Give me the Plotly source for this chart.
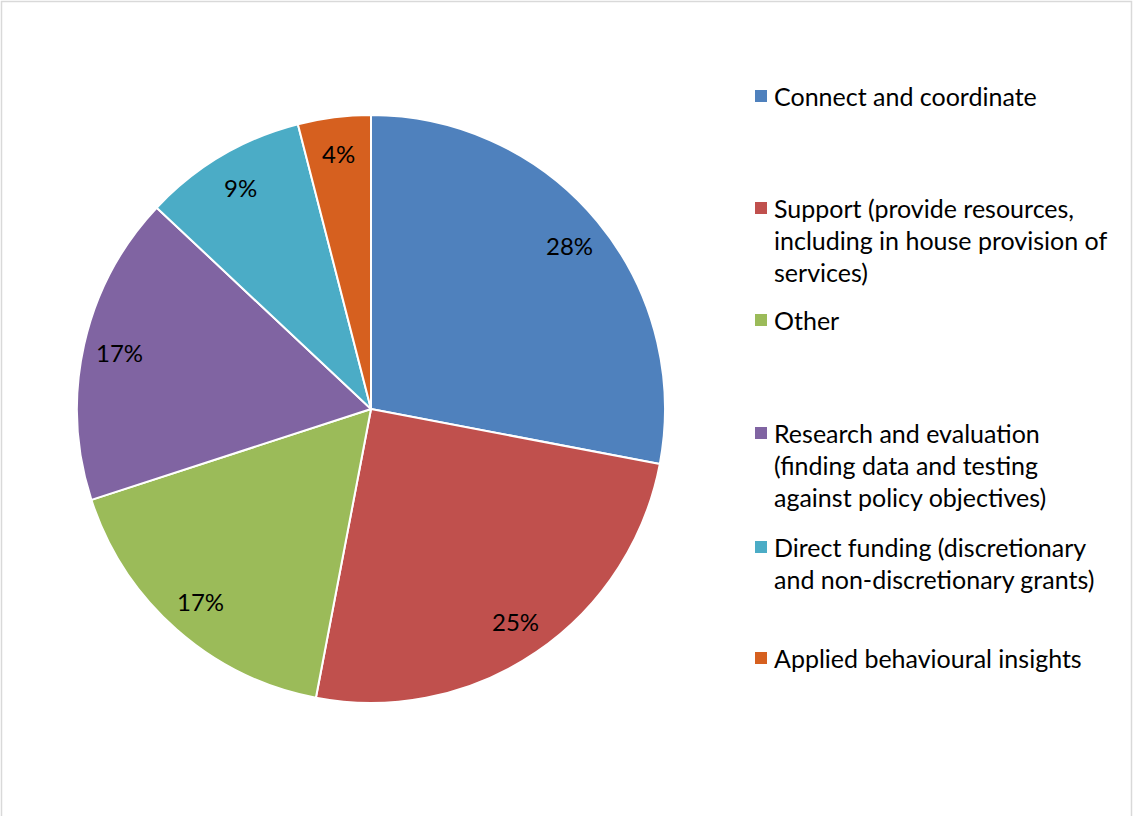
import math
import plotly.graph_objects as go

# Share of activities by type
categories = [
    "Connect and coordinate",
    "Support (provide resources,<br>including in house provision of<br>services)",
    "Other",
    "Research and evaluation<br>(finding data and testing<br>against policy objectives)",
    "Direct funding (discretionary<br>and non-discretionary grants)",
    "Applied behavioural insights",
]
shares = [28, 25, 17, 17, 9, 4]
colors = ["#4F81BD", "#C0504D", "#9BBB59", "#8064A2", "#4BACC6", "#D6601F"]

W, H = 1133, 816
FONT = "Lato"

# Pie placement in pixels (centre and radius)
CX, CY, R = 371, 409, 294


def px(x):
    return x / W


def py(y):
    return 1 - y / H


fig = go.Figure(
    go.Pie(
        labels=[c.replace("<br>", " ") for c in categories],
        values=shares,
        sort=False,
        direction="clockwise",
        rotation=0,
        marker=dict(colors=colors, line=dict(color="white", width=2)),
        textinfo="none",
        domain=dict(x=[px(CX - R), px(CX + R)], y=[py(CY + R), py(CY - R)]),
        showlegend=False,
        hoverinfo="label+value",
    )
)

annotations = []

# Percentage labels placed along each slice's bisector
total = sum(shares)
cum = 0
for v in shares:
    mid = (cum + v / 2) / total * 2 * math.pi
    cum += v
    r = 0.875 * R
    lx = CX + r * math.sin(mid)
    ly = CY - r * math.cos(mid)
    annotations.append(dict(
        x=px(lx), y=py(ly), xref="paper", yref="paper",
        xanchor="center", yanchor="middle", showarrow=False,
        text=f"{v}%", font=dict(family=FONT, size=24, color="black"),
    ))

# Legend drawn as coloured squares with wrapped labels
item_top = [96, 208, 320, 433, 547, 658]
line_gap = 32
shapes = []
for name, col, y0 in zip(categories, colors, item_top):
    shapes.append(dict(
        type="rect", xref="paper", yref="paper",
        x0=px(755), x1=px(767), y0=py(y0 + 6), y1=py(y0 - 6),
        fillcolor=col, line=dict(width=0),
    ))
    for i, line in enumerate(name.split("<br>")):
        annotations.append(dict(
            x=px(772), y=py(y0 + i * line_gap), xref="paper", yref="paper",
            xanchor="left", yanchor="middle", showarrow=False,
            text=line, font=dict(family=FONT, size=25, color="black"),
        ))

# Outer chart frame
shapes.append(dict(
    type="rect", xref="paper", yref="paper",
    x0=px(1.5), x1=px(1131.5), y0=py(830), y1=py(1.5),
    line=dict(color="#D9D9D9", width=1.5), fillcolor="rgba(0,0,0,0)",
))

fig.update_layout(
    width=W, height=H,
    margin=dict(l=0, r=0, t=0, b=0),
    paper_bgcolor="white",
    plot_bgcolor="white",
    shapes=shapes,
    annotations=annotations,
    font=dict(family=FONT),
)

fig.write_html("out.html")
